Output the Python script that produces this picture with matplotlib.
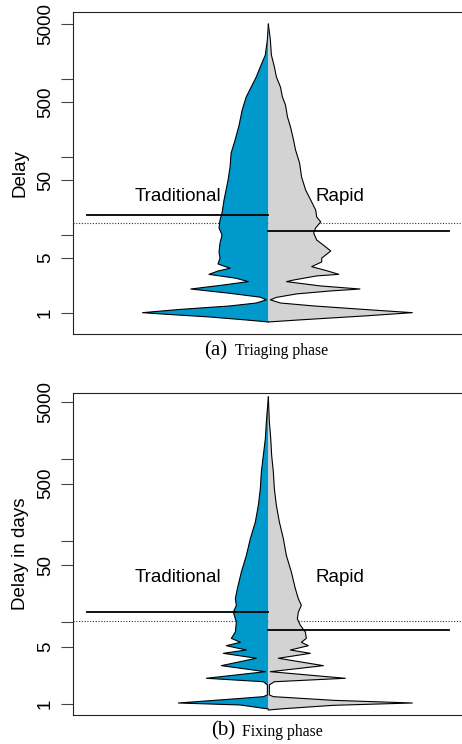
import numpy as np
import matplotlib
matplotlib.use("Agg")
import matplotlib.pyplot as plt
from matplotlib.ticker import FixedLocator, FixedFormatter, NullLocator

BLUE = "#0099cc"
GREY = "#d3d3d3"

# bean outlines: delay (days) and relative density (half width)
# (a) triaging phase
trad_a_delay = [5000, 3140, 2015, 1413, 1052, 783, 582, 397, 255, 164, 111, 73.8, 50.2,
                37.4, 27.9, 19.0, 15.4, 12.2, 9.9, 7.8, 6.0, 5.0, 4.21, 3.71, 3.42, 3.1,
                2.76, 2.5, 2.26, 2.01, 1.77, 1.58, 1.46, 1.33, 1.22, 1.1, 1.0, 0.96,
                0.88, 0.806, 0.76]
trad_a_dens = [0, 1, 3, 8, 12, 17, 22, 26, 29, 33, 37, 38, 40,
               42, 44, 46, 48, 49, 46, 48, 49, 48, 50, 38, 50, 59,
               32, 20, 45, 77, 38, 8, 2, 12, 38, 88, 125, 105,
               58, 22, 0]
rapid_a_delay = [5000, 3140, 2015, 1413, 1052, 783, 582, 460, 323, 240, 164, 122, 83, 55,
                 37.4, 27.9, 20.7, 16.9, 14.6, 12.2, 10.5, 8.55, 6.96, 6.18, 5.49, 5.0,
                 4.47, 3.89, 3.45, 3.1, 2.96, 2.62, 2.5, 2.2, 2.01, 1.9, 1.74, 1.57,
                 1.46, 1.33, 1.22, 1.1, 1.0, 0.907, 0.806, 0.76]
rapid_a_dens = [0, 2, 3, 6, 8, 12, 14, 17, 19, 22, 25, 27, 31, 33,
                37, 42, 47, 48, 52, 47, 45, 48, 57, 62, 57, 53,
                53, 43, 58, 70, 48, 25, 18, 52, 91, 62, 28, 8,
                2, 12, 45, 95, 143, 95, 30, 0]

# (b) fixing phase
trad_b_delay = [5800, 2860, 1785, 1116, 697, 435, 272, 170, 106, 66, 41.3, 25.8, 19.4,
                16.1, 13.3, 10.0, 7.59, 6.34, 5.66, 5.15, 4.56, 4.15, 3.61, 2.93, 2.47,
                2.05, 1.86, 1.7, 1.28, 1.22, 1.16, 1.02, 0.964, 0.861]
trad_b_dens = [0, 2, 3, 5, 7, 8, 10, 13, 18, 22, 27, 31, 33,
               32, 35, 32, 33, 37, 28, 42, 22, 45, 12, 47, 3,
               62, 5, 1, 1, 5, 28, 90, 28, 0]
rapid_b_delay = [5800, 2860, 1785, 1116, 697, 435, 272, 170, 106, 66, 41.3, 25.8, 19.4,
                 16.1, 13.3, 11.0, 9.16, 7.59, 6.34, 5.66, 5.15, 4.56, 4.15, 3.61, 2.93,
                 2.47, 2.05, 1.86, 1.7, 1.28, 1.22, 1.1, 1.02, 0.955, 0.868, 0.837]
rapid_b_dens = [0, 1, 2.4, 3.3, 5, 6, 8, 11, 15, 18, 23, 27, 30,
                33, 30, 29, 32, 37, 38, 33, 40, 22, 42, 10, 55,
                2, 77, 6, 1, 1, 5, 65, 144, 65, 15, 0]

# group means and overall mean
means_a = {"trad": 18.0, "rapid": 11.1, "all": 14.1}
means_b = {"trad": 13.3, "rapid": 8.1, "all": 10.3}

tick_vals = [1, 5, 10, 50, 100, 500, 1000, 5000]
tick_labels = ["1", "5", "", "50", "", "500", "", "5000"]

MAXWIDTH = 0.368


def bean(ax, trad, rapid, means, ylim, ylabel, label_y):
    td, tw = np.array(trad[0]), np.array(trad[1], dtype=float)
    rd, rw = np.array(rapid[0]), np.array(rapid[1], dtype=float)
    k = MAXWIDTH / max(tw.max(), rw.max())
    tw, rw = tw * k, rw * k

    ax.fill_betweenx(td, 1 - tw, 1, facecolor=BLUE, edgecolor="none", zorder=2)
    ax.fill_betweenx(rd, 1, 1 + rw, facecolor=GREY, edgecolor="none", zorder=2)
    ax.plot(1 - tw, td, color="black", lw=0.8, zorder=3)
    ax.plot(1 + rw, rd, color="black", lw=0.8, zorder=3)

    ax.axhline(means["all"], color="#333333", lw=0.8, ls=(0, (1, 1.5)), zorder=1)
    ax.plot([0.536, 1.0], [means["trad"]] * 2, color="black", lw=1.3, zorder=4)
    ax.plot([1.0, 1.462], [means["rapid"]] * 2, color="black", lw=1.3, zorder=4)

    ax.text(0.769, label_y, "Traditional", ha="center", va="center", fontsize=13.5,
            family="Liberation Sans")
    ax.text(1.182, label_y, "Rapid", ha="center", va="center", fontsize=13.5,
            family="Liberation Sans")

    ax.set_yscale("log")
    ax.set_xlim(0.5, 1.5)
    ax.set_ylim(*ylim)
    ax.xaxis.set_major_locator(NullLocator())
    ax.xaxis.set_minor_locator(NullLocator())
    ax.yaxis.set_major_locator(FixedLocator(tick_vals))
    ax.yaxis.set_major_formatter(FixedFormatter(tick_labels))
    ax.yaxis.set_minor_locator(NullLocator())
    ax.tick_params(axis="y", length=8.5, width=0.8, color="#444444", pad=5,
                   labelsize=13.5, labelrotation=90)
    for t in ax.get_yticklabels():
        t.set_family("Liberation Sans")
        t.set_va("center")
    for s in ax.spines.values():
        s.set_linewidth(0.8)
        s.set_color("#222222")
    ax.set_ylabel(ylabel, fontsize=13.5, family="Liberation Sans", labelpad=6)


fig = plt.figure(figsize=(4.62, 7.44), dpi=100)
ax_a = fig.add_axes([0.1574, 0.5511, 0.8469, 0.4324])
ax_b = fig.add_axes([0.1574, 0.0394, 0.8469, 0.4328])

bean(ax_a, (trad_a_delay, trad_a_dens), (rapid_a_delay, rapid_a_dens), means_a,
     (0.533, 7100), "Delay", 30.7)
bean(ax_b, (trad_b_delay, trad_b_dens), (rapid_b_delay, rapid_b_dens), means_b,
     (0.733, 6550), "Delay in days", 35.2)

W, H = 462, 744
fig.text(204 / W, 1 - 355 / H, "(a)", fontsize=15, family="Liberation Serif", va="baseline")
fig.text(235 / W, 1 - 355 / H, "Triaging phase", fontsize=11.3, family="Liberation Serif",
         va="baseline")
fig.text(211.5 / W, 1 - 735.5 / H, "(b)", fontsize=15, family="Liberation Serif", va="baseline")
fig.text(242.5 / W, 1 - 735.5 / H, "Fixing phase", fontsize=11.3, family="Liberation Serif",
         va="baseline")

fig.savefig("out.png", dpi=100)
